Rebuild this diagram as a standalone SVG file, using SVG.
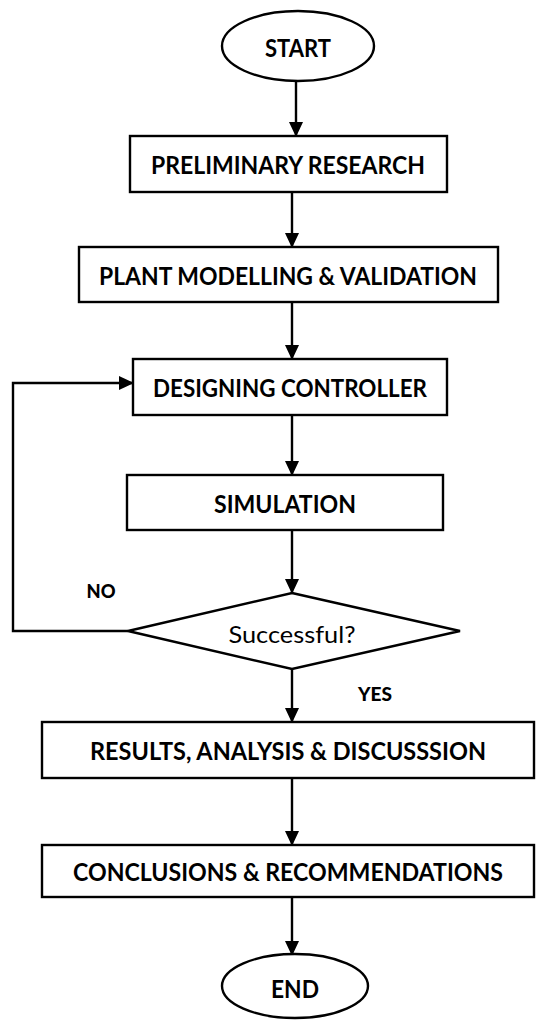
<svg xmlns="http://www.w3.org/2000/svg" width="537" height="1020" viewBox="0 0 537 1020">
<style>
.shape{fill:#fff;stroke:#000;stroke-width:2.4}
.lbl{font-family:Lato,"Liberation Sans",sans-serif;font-weight:bold;font-size:24px;fill:#000;text-anchor:middle;dominant-baseline:central}
.reg{font-family:Lato,"Liberation Sans",sans-serif;font-size:24px;fill:#000;text-anchor:middle;dominant-baseline:central}
.sm{font-family:Lato,"Liberation Sans",sans-serif;font-weight:900;font-size:19px;fill:#000;text-anchor:middle;dominant-baseline:central}
.conn{fill:none;stroke:#000;stroke-width:2.4}
</style>
<defs>
<marker id="arr" markerWidth="15" markerHeight="14" refX="14" refY="7" orient="auto" markerUnits="userSpaceOnUse">
<path d="M0,0 L15,7 L0,14 Z" fill="#000"/>
</marker>
</defs>
<rect width="537" height="1020" fill="#fff"/>
<g id="connectors">
<path class="conn" d="M296,81 L296,136" marker-end="url(#arr)"/>
<path class="conn" d="M292,192 L292,247" marker-end="url(#arr)"/>
<path class="conn" d="M292,302 L292,359" marker-end="url(#arr)"/>
<path class="conn" d="M292,415 L292,475" marker-end="url(#arr)"/>
<path class="conn" d="M292,530 L292,593" marker-end="url(#arr)"/>
<path class="conn" d="M128,631 L13,631 L13,383 L133,383" marker-end="url(#arr)"/>
<path class="conn" d="M292,669 L292,722" marker-end="url(#arr)"/>
<path class="conn" d="M292,778 L292,845" marker-end="url(#arr)"/>
<path class="conn" d="M292,897 L292,955" marker-end="url(#arr)"/>
<text class="sm" x="101" y="590" textLength="29" lengthAdjust="spacingAndGlyphs">NO</text>
<text class="sm" x="375" y="693" textLength="34" lengthAdjust="spacingAndGlyphs">YES</text>
</g>
<g id="start">
<ellipse class="shape" cx="298" cy="46" rx="76" ry="35"/>
<text class="lbl" x="298" y="47" textLength="66" lengthAdjust="spacingAndGlyphs">START</text>
</g>
<g id="research">
<rect class="shape" x="130" y="136" width="317" height="56"/>
<text class="lbl" x="288" y="164" textLength="274" lengthAdjust="spacingAndGlyphs">PRELIMINARY RESEARCH</text>
</g>
<g id="modelling">
<rect class="shape" x="79" y="247" width="419" height="55"/>
<text class="lbl" x="288" y="275" textLength="378" lengthAdjust="spacingAndGlyphs">PLANT MODELLING &amp; VALIDATION</text>
</g>
<g id="designing">
<rect class="shape" x="133" y="359" width="314" height="56"/>
<text class="lbl" x="290" y="387" textLength="274" lengthAdjust="spacingAndGlyphs">DESIGNING CONTROLLER</text>
</g>
<g id="simulation">
<rect class="shape" x="127" y="475" width="316" height="55"/>
<text class="lbl" x="285" y="503" textLength="142" lengthAdjust="spacingAndGlyphs">SIMULATION</text>
</g>
<g id="decision">
<polygon class="shape" points="292,593 460,631 292,669 128,631"/>
<text class="reg" x="292" y="633" textLength="127" lengthAdjust="spacingAndGlyphs">Successful?</text>
</g>
<g id="results">
<rect class="shape" x="42" y="722" width="492" height="56"/>
<text class="lbl" x="288" y="750" textLength="396" lengthAdjust="spacingAndGlyphs">RESULTS, ANALYSIS &amp; DISCUSSSION</text>
</g>
<g id="conclusions">
<rect class="shape" x="42" y="845" width="492" height="52"/>
<text class="lbl" x="288" y="871" textLength="430" lengthAdjust="spacingAndGlyphs">CONCLUSIONS &amp; RECOMMENDATIONS</text>
</g>
<g id="end">
<ellipse class="shape" cx="295" cy="986" rx="73" ry="32"/>
<text class="lbl" x="295" y="988" textLength="48" lengthAdjust="spacingAndGlyphs">END</text>
</g>
</svg>
